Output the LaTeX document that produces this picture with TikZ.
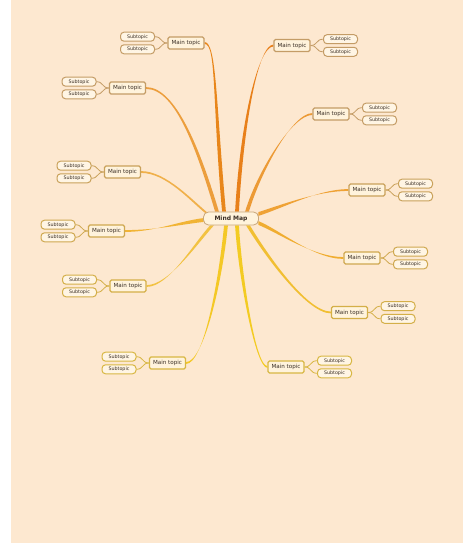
\documentclass[tikz,border=0pt]{standalone}
\usepackage{fontspec}
\setmainfont{DejaVu Sans}
\usetikzlibrary{calc}
\pgfdeclarelayer{back}
\pgfsetlayers{back,main}
\definecolor{bgc}{HTML}{FDE8D0}
\definecolor{mainfill}{HTML}{FFF3DC}
\definecolor{subfill}{HTML}{FFF5E4}
\definecolor{txt}{HTML}{3B2F25}
\definecolor{rootline}{HTML}{C8A77A}
\definecolor{bA}{HTML}{C49C66}
\definecolor{bB}{HTML}{C9A15A}
\definecolor{bC}{HTML}{CFA850}
\definecolor{bD}{HTML}{D4AF48}
\definecolor{bE}{HTML}{D8B743}
\definecolor{c1}{HTML}{E8861A}
\definecolor{c2}{HTML}{EC9E3C}
\definecolor{c3}{HTML}{F0B04A}
\definecolor{c4}{HTML}{F1B435}
\definecolor{c5}{HTML}{F2C242}
\definecolor{c6}{HTML}{F4C826}
\definecolor{c7}{HTML}{F3CB22}
\definecolor{c8}{HTML}{F1BF32}
\definecolor{c9}{HTML}{F0AD30}
\definecolor{c10}{HTML}{EFA235}
\definecolor{c11}{HTML}{EC9A35}
\definecolor{c12}{HTML}{E8801A}
\tikzset{
  rootbox/.style={draw=rootline, fill=mainfill, rounded corners=5pt, line width=0.8pt,
    minimum width=55pt, minimum height=13pt, inner sep=0pt, text=txt,
    font=\fontsize{6}{7}\selectfont\bfseries},
  maintopic/.style={draw=#1, fill=mainfill, rounded corners=1.5pt, line width=1.2pt,
    minimum width=36pt, minimum height=12pt, inner sep=0pt, text=txt,
    font=\fontsize{5.6}{6}\selectfont},
  subtopic/.style={draw=#1, fill=subfill, rounded corners=3.5pt, line width=1pt,
    minimum width=34pt, minimum height=9pt, inner sep=0pt, text=txt,
    font=\fontsize{4.8}{5}\selectfont},
  subline/.style={draw=#1, line width=0.8pt}
}
% #1 start point, #2 ctrl offset at start, #3 ctrl offset at end, #4 end point, #5 half width at end, #6 colour
\newcommand\taperbranch[6]{%
  \fill[#6] ($(#1)+(0,-0.9)$) .. controls +(#2) and +(#3) .. ($(#4)+(#5)$)
    -- ($(#4)-(#5)$) .. controls +(#3) and +(#2) .. ($(#1)+(0,0.9)$) -- cycle;}
% #1 main node, #2 main anchor, #3 sub node, #4 sub anchor, #5 dx, #6 colour
\newcommand\subconn[6]{%
  \draw[subline=#6] (#1.#2) .. controls +(#5,0) and +(-#5,0) .. (#3.#4);}
\begin{document}
\begin{tikzpicture}[x=1pt,y=-1pt]
\useasboundingbox (0,0) rectangle (474,543);
\begin{pgfonlayer}{back}
\fill[bgc] (11,0) rectangle (463,543);
\end{pgfonlayer}

\node[rootbox] (root) at (231,218.5) {Mind Map};

\node[maintopic=bA] (m1) at (186,43) {Main topic};
\node[maintopic=bA] (m2) at (127.5,88) {Main topic};
\node[maintopic=bB] (m3) at (122.5,172) {Main topic};
\node[maintopic=bC] (m4) at (106.5,231) {Main topic};
\node[maintopic=bD] (m5) at (128,286) {Main topic};
\node[maintopic=bE] (m6) at (167.5,363) {Main topic};
\node[maintopic=bE] (m7) at (286,367) {Main topic};
\node[maintopic=bD] (m8) at (349.5,312.5) {Main topic};
\node[maintopic=bC] (m9) at (362,258) {Main topic};
\node[maintopic=bB] (m10) at (367,190) {Main topic};
\node[maintopic=bA] (m11) at (331,114) {Main topic};
\node[maintopic=bA] (m12) at (292,45.5) {Main topic};

\foreach \i/\c in {1/bA,2/bA,3/bB,4/bC,5/bD,6/bE}{
  \node[subtopic=\c] (s\i a) at ($(m\i)+(-48.5,-6.3)$) {Subtopic};
  \node[subtopic=\c] (s\i b) at ($(m\i)+(-48.5,6.3)$) {Subtopic};
  \subconn{m\i}{west}{s\i a}{east}{-7}{\c}
  \subconn{m\i}{west}{s\i b}{east}{-7}{\c}
}
\foreach \i/\c in {7/bE,8/bD,9/bC,10/bB,11/bA,12/bA}{
  \node[subtopic=\c] (s\i a) at ($(m\i)+(48.5,-6.3)$) {Subtopic};
  \node[subtopic=\c] (s\i b) at ($(m\i)+(48.5,6.3)$) {Subtopic};
  \subconn{m\i}{east}{s\i a}{west}{7}{\c}
  \subconn{m\i}{east}{s\i b}{west}{7}{\c}
}

\begin{pgfonlayer}{back}
\taperbranch{m1.east}{12,0}{-10,-110}{$(root.north)+(-7,0)$}{1.9,0}{c1}
\taperbranch{m2.east}{30,0}{-18,-60}{$(root.north)+(-14,0)$}{1.9,0}{c2}
\taperbranch{m3.east}{25,0}{-15,-12}{$(root.west)+(3.5,-5.5)$}{1.4,0}{c3}
\taperbranch{m4.east}{30,0}{-25,3}{$(root.west)+(0.5,1.5)$}{0,1.9}{c4}
\taperbranch{m5.east}{22,0}{-18,20}{$(root.south)+(-19,0)$}{1.9,0}{c5}
\taperbranch{m6.east}{17,0}{-6,60}{$(root.south)+(-5,0)$}{1.9,0}{c6}
\taperbranch{m7.west}{-12,0}{3,50}{$(root.south)+(6,0)$}{1.9,0}{c7}
\taperbranch{m8.west}{-25,0}{15,25}{$(root.south)+(17,0)$}{1.9,0}{c8}
\taperbranch{m9.west}{-30,0}{20,8}{$(root.east)+(-0.5,4.5)$}{0,1.9}{c9}
\taperbranch{m10.west}{-30,0}{25,-8}{$(root.east)+(-0.5,-4.5)$}{0,1.9}{c10}
\taperbranch{m11.west}{-20,0}{12,-40}{$(root.north)+(16,0)$}{1.9,0}{c11}
\taperbranch{m12.west}{-15,0}{5,-90}{$(root.north)+(6,0)$}{1.9,0}{c12}
\end{pgfonlayer}
\end{tikzpicture}
\end{document}
